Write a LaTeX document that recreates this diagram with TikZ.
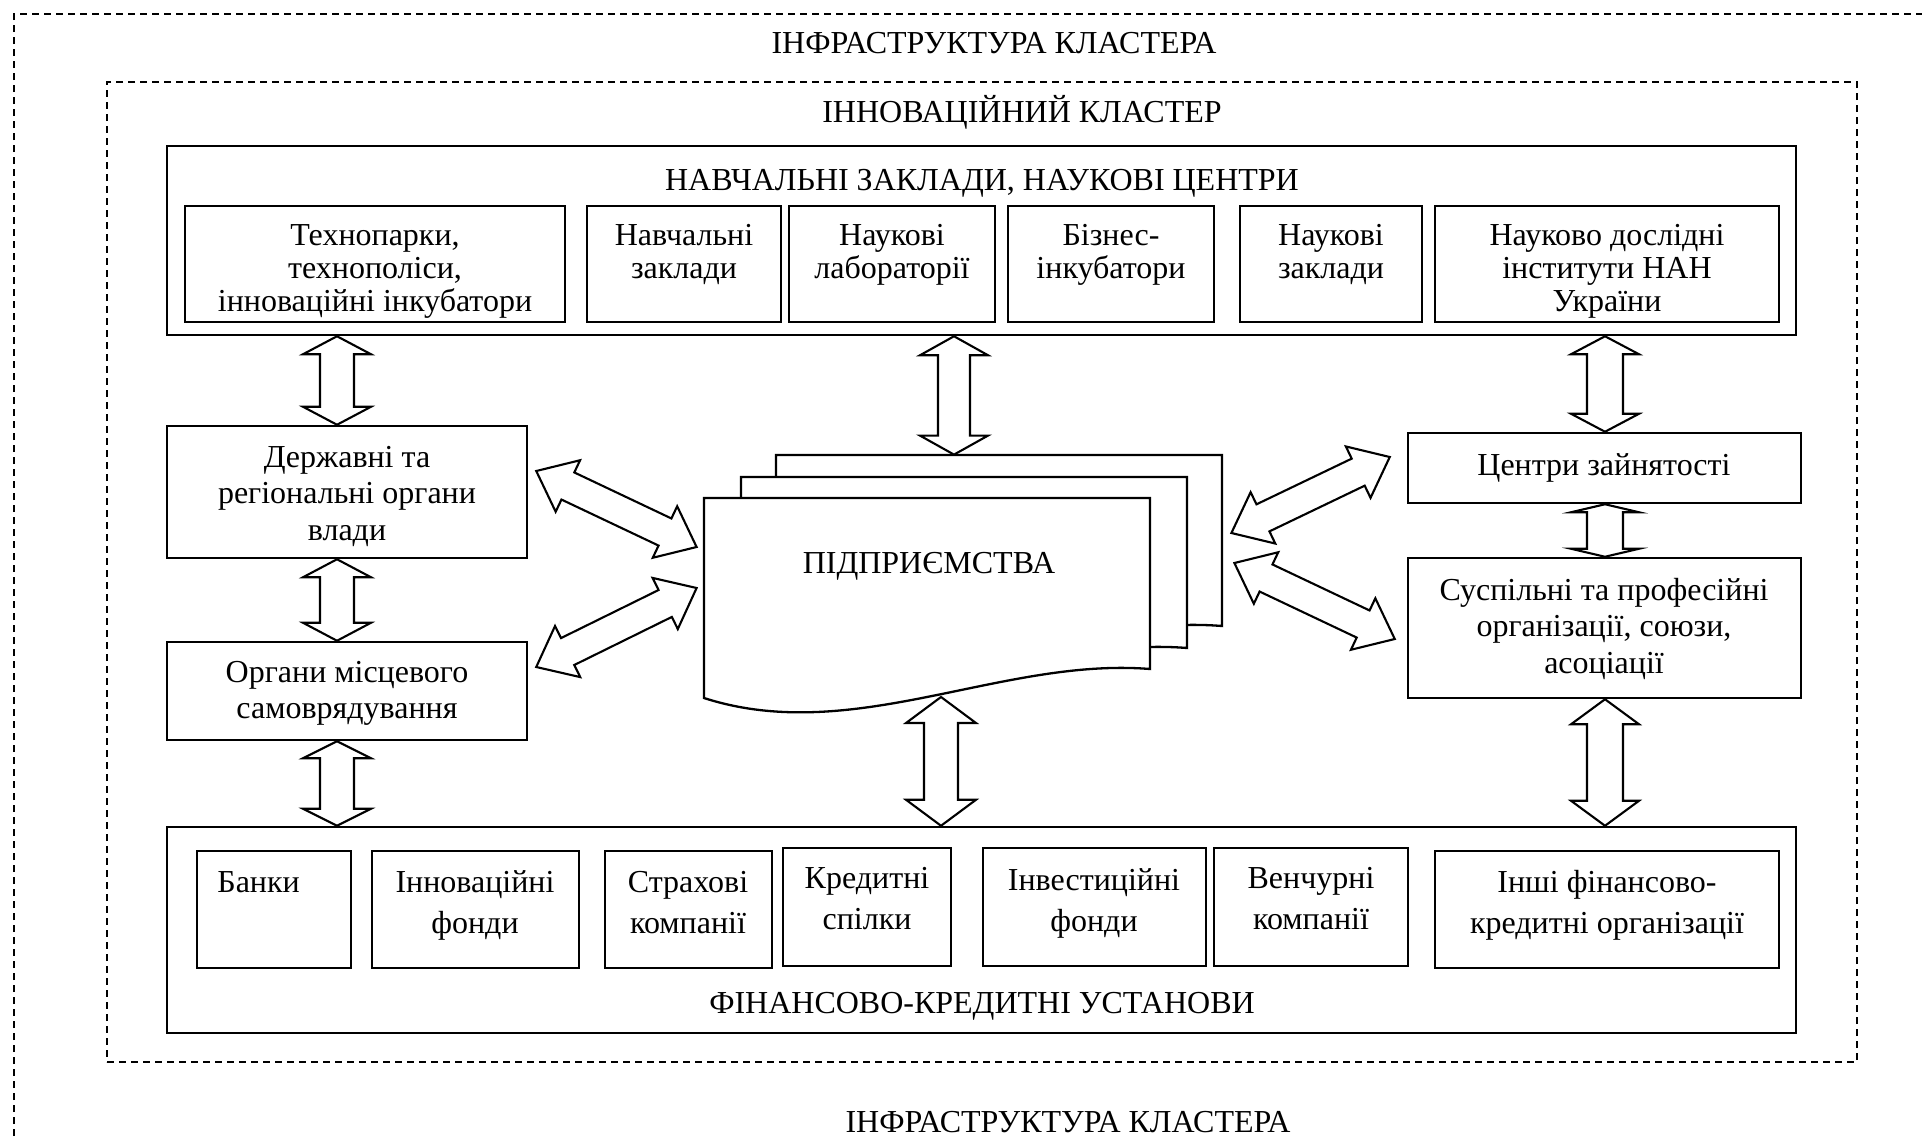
\documentclass[tikz,border=0pt]{standalone}
\usepackage{fontspec}
\setmainfont{Liberation Serif}
\usetikzlibrary{calc,fit}
\newcommand\ml[2]{\parbox[t]{400pt}{\fontsize{16pt}{#1}\selectfont\centering #2}}
% double block arrow: #1 end A, #2 end B, #3 shaft half width, #4 head half width, #5 head length
\newcommand\dblarr[5]{%
\draw[barrow] (#1)
 -- ($(#1)!#5!(#2)!#4!90:(#2)$)
 -- ($(#1)!#5!(#2)!#3!90:(#2)$)
 -- ($(#2)!#5!(#1)!#3!-90:(#1)$)
 -- ($(#2)!#5!(#1)!#4!-90:(#1)$)
 -- (#2)
 -- ($(#2)!#5!(#1)!#4!90:(#1)$)
 -- ($(#2)!#5!(#1)!#3!90:(#1)$)
 -- ($(#1)!#5!(#2)!#3!-90:(#2)$)
 -- ($(#1)!#5!(#2)!#4!-90:(#2)$)
 -- cycle;}
\newcommand\docsheet[2]{%
\draw[docst, shift={(#1,#2)}] (704,498) -- (1150,498) -- (1150,669)
  .. controls (1001,657) and (853,746) .. (704,698) -- cycle;}
\begin{document}
\begin{tikzpicture}[x=0.5pt,y=-0.5pt,
  boxst/.style={draw, line width=1.25pt, inner sep=0pt, fill=white},
  lbl/.style={inner sep=0pt, font=\fontsize{16pt}{18pt}\selectfont},
  barrow/.style={draw, line width=1.05pt, fill=white, line join=miter},
  docst/.style={draw, line width=1.15pt, fill=white, line join=miter},
  dashst/.style={draw, line width=1pt, dash pattern=on 3.5pt off 2.5pt, inner sep=0pt},
  ghost/.style={inner sep=0pt}]
\useasboundingbox (0,0) rectangle (1922,1136);

% outer infrastructure frame (runs off the page to the right and bottom)
\draw[dashst] (14,1136) -- (14,14) -- (1922,14);
\node[lbl, anchor=base] (infra1) at (994,53) {ІНФРАСТРУКТУРА КЛАСТЕРА};

% innovation cluster
\node[dashst, fit={(107,82) (1857,1062)}] (cluster) {};
\node[lbl, anchor=base] (clustert) at (1022,122) {ІННОВАЦІЙНИЙ КЛАСТЕР};

% education and science
\node[boxst, fit={(167,146) (1796,335)}] (edu) {};
\node[lbl, anchor=base] (edut) at (982,190) {НАВЧАЛЬНІ ЗАКЛАДИ, НАУКОВІ ЦЕНТРИ};
\node[boxst, fit={(185,206) (565,322)}] (t1) {};
\node[lbl, anchor=base] (t1t) at (375,245) {\ml{16.5pt}{Технопарки,\\технополіси,\\інноваційні інкубатори}};
\node[boxst, fit={(587,206) (781,322)}] (t2) {};
\node[lbl, anchor=base] (t2t) at (684,245) {\ml{16.5pt}{Навчальні\\заклади}};
\node[boxst, fit={(789,206) (995,322)}] (t3) {};
\node[lbl, anchor=base] (t3t) at (892,245) {\ml{16.5pt}{Наукові\\лабораторії}};
\node[boxst, fit={(1008,206) (1214,322)}] (t4) {};
\node[lbl, anchor=base] (t4t) at (1111,245) {\ml{16.5pt}{Бізнес-\\інкубатори}};
\node[boxst, fit={(1240,206) (1422,322)}] (t5) {};
\node[lbl, anchor=base] (t5t) at (1331,245) {\ml{16.5pt}{Наукові\\заклади}};
\node[boxst, fit={(1435,206) (1779,322)}] (t6) {};
\node[lbl, anchor=base] (t6t) at (1607,245) {\ml{16.5pt}{Науково дослідні\\інститути НАН\\України}};

% left column
\node[boxst, fit={(167,426) (527,558)}] (derzh) {};
\node[lbl, anchor=base] (derzht) at (347,467) {\ml{18.25pt}{Державні та\\регіональні органи\\влади}};
\node[boxst, fit={(167,642) (527,740)}] (organy) {};
\node[lbl, anchor=base] (organyt) at (347,682) {\ml{18pt}{Органи місцевого\\самоврядування}};

% right column
\node[boxst, fit={(1408,433) (1801,503)}] (centry) {};
\node[lbl, anchor=base] (centryt) at (1604,475) {Центри зайнятості};
\node[boxst, fit={(1408,558) (1801,698)}] (susp) {};
\node[lbl, anchor=base] (suspt) at (1604,600) {\ml{18.25pt}{Суспільні та професійні\\організації, союзи,\\асоціації}};

% enterprises (stack of documents)
\docsheet{72}{-43}
\docsheet{37}{-21}
\docsheet{0}{0}
\node[ghost, fit={(704,498) (1150,698)}] (front) {};
\node[ghost, fit={(776,455) (1221,655)}] (back) {};
\node[lbl, anchor=base] (entt) at (929,573) {ПІДПРИЄМСТВА};
\coordinate (docbot) at (941,697);

% finance
\node[boxst, fit={(167,827) (1796,1033)}] (fin) {};
\node[lbl, anchor=base] (fint) at (982,1013) {ФІНАНСОВО-КРЕДИТНІ УСТАНОВИ};
\node[boxst, fit={(197,851) (351,968)}] (f1) {};
\node[lbl, anchor=base west] (f1t) at (217,892) {Банки};
\node[boxst, fit={(372,851) (579,968)}] (f2) {};
\node[lbl, anchor=base] (f2t) at (475,892) {\ml{20.5pt}{Інноваційні\\фонди}};
\node[boxst, fit={(605,851) (772,968)}] (f3) {};
\node[lbl, anchor=base] (f3t) at (688,892) {\ml{20.5pt}{Страхові\\компанії}};
\node[boxst, fit={(783,848) (951,966)}] (f4) {};
\node[lbl, anchor=base] (f4t) at (867,888) {\ml{20.5pt}{Кредитні\\спілки}};
\node[boxst, fit={(983,848) (1206,966)}] (f5) {};
\node[lbl, anchor=base] (f5t) at (1094,890) {\ml{20.5pt}{Інвестиційні\\фонди}};
\node[boxst, fit={(1214,848) (1408,966)}] (f6) {};
\node[lbl, anchor=base] (f6t) at (1311,888) {\ml{20.5pt}{Венчурні\\компанії}};
\node[boxst, fit={(1435,851) (1779,968)}] (f7) {};
\node[lbl, anchor=base] (f7t) at (1607,892) {\ml{20.5pt}{Інші фінансово-\\кредитні організації}};

\node[lbl, anchor=base] (infra2) at (1068,1132) {ІНФРАСТРУКТУРА КЛАСТЕРА};

% connector end points
\coordinate (xl) at (337,0);
\coordinate (xc) at (954,0);
\coordinate (xb) at (941,0);
\coordinate (xr) at (1605,0);
\coordinate (v1a) at (edu.south -| xl);   \coordinate (v1b) at (derzh.north -| xl);
\coordinate (v2a) at (derzh.south -| xl); \coordinate (v2b) at (organy.north -| xl);
\coordinate (v3a) at (organy.south -| xl);\coordinate (v3b) at (fin.north -| xl);
\coordinate (v4a) at (edu.south -| xc);   \coordinate (v4b) at (back.north -| xc);
\coordinate (v5b) at (fin.north -| xb);
\coordinate (v6a) at (edu.south -| xr);   \coordinate (v6b) at (centry.north -| xr);
\coordinate (v7a) at (centry.south -| xr);\coordinate (v7b) at (susp.north -| xr);
\coordinate (v8a) at (susp.south -| xr);  \coordinate (v8b) at (fin.north -| xr);
\coordinate (d1a) at ($(derzh.east)+(8,-21)$);  \coordinate (d1b) at ($(front.west)+(-7,-51)$);
\coordinate (d2a) at ($(organy.east)+(8,-24)$); \coordinate (d2b) at ($(front.west)+(-7,-10)$);
\coordinate (d3a) at ($(back.east)+(10,-22)$);  \coordinate (d3b) at ($(centry.west)+(-17,-11)$);
\coordinate (d4a) at ($(back.east)+(13,8)$);    \coordinate (d4b) at ($(susp.west)+(-12,11)$);

% block arrows
\dblarr{v1a}{v1b}{8.5pt}{17pt}{9pt}
\dblarr{v2a}{v2b}{8.5pt}{17pt}{9pt}
\dblarr{v3a}{v3b}{8.5pt}{17pt}{8.5pt}
\dblarr{v4a}{v4b}{8pt}{17pt}{9.5pt}
\dblarr{docbot}{v5b}{8.5pt}{17.5pt}{13pt}
\dblarr{v6a}{v6b}{9pt}{17pt}{9pt}
\dblarr{v7a}{v7b}{9pt}{17pt}{4pt}
\dblarr{v8a}{v8b}{9pt}{17pt}{12.5pt}
\dblarr{d1a}{d1b}{7.5pt}{14.25pt}{17.5pt}
\dblarr{d2a}{d2b}{7.5pt}{14.25pt}{17.5pt}
\dblarr{d3a}{d3b}{7.5pt}{14.25pt}{17.5pt}
\dblarr{d4a}{d4b}{7.5pt}{14.25pt}{17.5pt}
\end{tikzpicture}
\end{document}
